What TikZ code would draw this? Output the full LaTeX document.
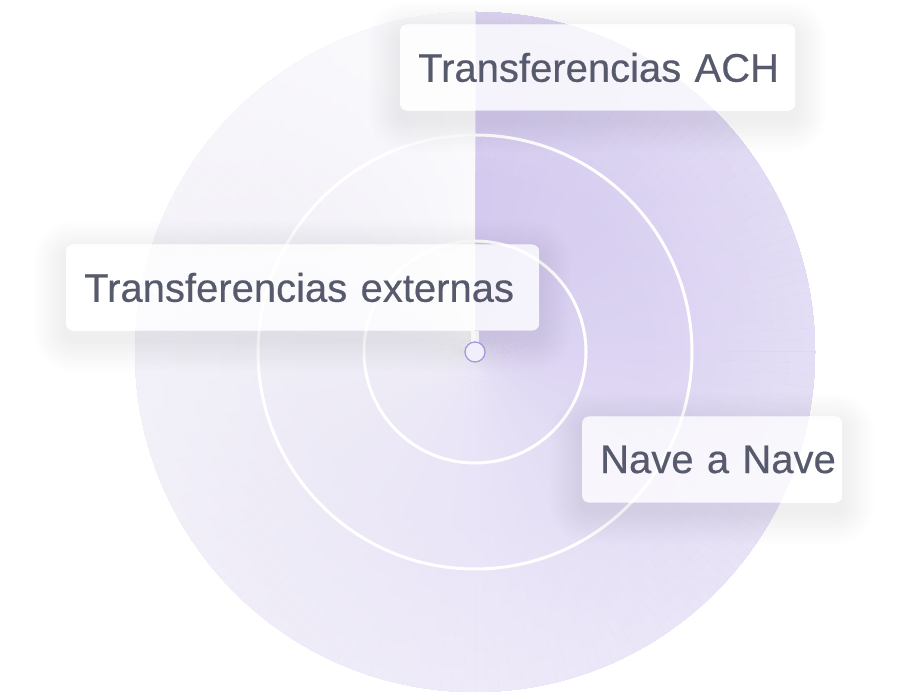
\documentclass[tikz,border=0pt]{standalone}
\usepackage{fontspec}
\setmainfont{Liberation Sans}
\newfontfamily\labelfont[FakeBold=0.35]{Liberation Sans}
\usetikzlibrary{calc}
\definecolor{txt}{HTML}{565A6C}
\definecolor{gA}{HTML}{D4CAEF}
\definecolor{gB}{HTML}{DCD4F2}
\definecolor{gC}{HTML}{E9E4F7}
\definecolor{gD}{HTML}{EFEDF6}
\definecolor{gE}{HTML}{FAF9FC}
\definecolor{dotline}{HTML}{A598E0}
\definecolor{dotfill}{HTML}{F1EFFA}
\pgfdeclarelayer{bg}
\pgfdeclarelayer{shadow}
\pgfsetlayers{bg,shadow,main}
\begin{document}
\begin{tikzpicture}[x=1pt,y=1pt,
  label box/.style={rectangle, rounded corners=7pt, fill=white, fill opacity=0.76,
    text opacity=1, text=txt, font=\labelfont\fontsize{40}{48}\selectfont,
    inner xsep=18pt, inner ysep=0pt, minimum height=86pt, align=left, anchor=west},
  ring/.style={draw=white, line width=3pt},
  centre dot/.style={circle, minimum size=20pt, inner sep=0pt, fill=dotfill,
    draw=dotline, line width=1.3pt}]
\useasboundingbox (0,0) rectangle (908,695);
\coordinate (c) at (475,343);

\begin{pgfonlayer}{bg}
  \begin{scope}
    \clip (c) circle[radius=340];
    \foreach \i in {0,...,179}{
      \pgfmathtruncatemacro\seg{min(3,floor(\i/45))}
      \pgfmathtruncatemacro\p{100-100*(\i-45*\seg)/45}
      \ifcase\seg
        \colorlet{wc}{gA!\p!gB}
      \or
        \colorlet{wc}{gB!\p!gC}
      \or
        \colorlet{wc}{gC!\p!gD}
      \else
        \colorlet{wc}{gD!\p!gE}
      \fi
      \pgfmathsetmacro\sa{90-2*\i}
      \pgfmathsetmacro\ea{max(-270,90-2*\i-2.4)}
      \fill[wc] (c) -- ++(\sa:345) arc[start angle=\sa, end angle=\ea, radius=345] -- cycle;
      \foreach \k in {1,...,11}{
        \pgfmathtruncatemacro\rr{165+15*\k}
        \pgfmathtruncatemacro\q{100-2*\k}
        \fill[wc!\q!white] ($(c)+(\sa:\rr)$) arc[start angle=\sa, end angle=\ea, radius=\rr]
          -- ($(c)+(\ea:345)$) arc[start angle=\ea, end angle=\sa, radius=345] -- cycle;
      }
    }
  \end{scope}
  \draw[ring] (c) circle[radius=217];
  \draw[ring] (c) circle[radius=111];
\end{pgfonlayer}

\node[label box, text width=359pt] (ach) at (400,627.5) {\mbox{Transferencias ACH}};
\node[label box, text width=437pt] (ext) at (66,407.5) {\mbox{Transferencias externas}};
\node[label box, text width=224pt] (nave) at (582,235.5) {\mbox{Nave a Nave}};
\draw[white, opacity=0.75, line width=8pt] (c) -- (c |- ext.south);
\node[centre dot] (dot) at (c) {};

\begin{pgfonlayer}{shadow}
  \foreach \n in {ach,ext,nave}{
    \foreach \k in {1,...,16}{
      \pgfmathsetmacro\rc{7+2*\k}
      \fill[black, opacity=0.0045, even odd rule]
        [rounded corners=\rc pt] ([shift={(-2*\k,-9-2*\k)}]\n.south west) rectangle ([shift={(2*\k,-9+2*\k)}]\n.north east)
        [rounded corners=7pt] (\n.south west) rectangle (\n.north east);
    }
  }
\end{pgfonlayer}
\end{tikzpicture}
\end{document}
